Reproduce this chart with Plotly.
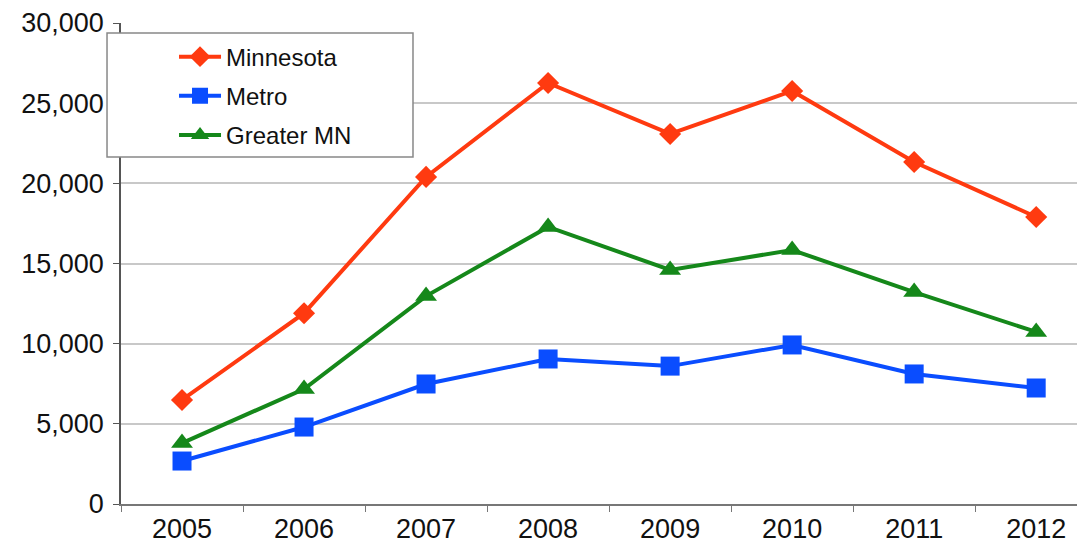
import plotly.graph_objects as go

years = ["2005", "2006", "2007", "2008", "2009", "2010", "2011", "2012"]
minnesota = [6490, 11900, 20400, 26260, 23080, 25760, 21330, 17900]
metro = [2680, 4800, 7485, 9045, 8600, 9920, 8110, 7235]
greater_mn = [3800, 7170, 12970, 17280, 14600, 15840, 13220, 10730]
y_ticks = [0, 5000, 10000, 15000, 20000, 25000, 30000]
y_labels = ["0", "5,000", "10,000", "15,000", "20,000", "25,000", "30,000"]

RED, BLUE, GREEN = "#FF3A10", "#0A4DFF", "#15881A"

fig = go.Figure()
fig.add_trace(go.Scatter(x=years, y=minnesota, name="Minnesota", mode="lines+markers",
                         legendgroup="a",
                         line=dict(color=RED, width=4),
                         marker=dict(symbol="diamond", size=17, color=RED)))
fig.add_trace(go.Scatter(x=years, y=metro, name="Metro", mode="lines+markers",
                         legendgroup="b",
                         line=dict(color=BLUE, width=4),
                         marker=dict(symbol="square", size=19, color=BLUE)))
fig.add_trace(go.Scatter(x=years, y=greater_mn, name="Greater MN", mode="lines+markers",
                         legendgroup="c",
                         line=dict(color=GREEN, width=4),
                         marker=dict(symbol="triangle-up", size=19, color=GREEN)))

# legend frame (paper coordinates)
fig.add_shape(type="rect", xref="paper", yref="paper",
              x0=-0.0145, x1=0.3029, y0=0.7214, y1=0.9792,
              line=dict(color="#888888", width=1.5), fillcolor="white", layer="above")

fig.update_layout(
    width=1077, height=545,
    margin=dict(l=113, r=0, t=15, b=49),
    paper_bgcolor="white", plot_bgcolor="white",
    font=dict(family="Liberation Sans, Arial, sans-serif", color="#111111"),
    showlegend=True,
    legend=dict(x=0.055, y=0.976, xanchor="left", yanchor="top",
                bgcolor="rgba(0,0,0,0)", borderwidth=0,
                font=dict(size=24, color="#111111"),
                itemwidth=42,
                tracegroupgap=5, traceorder="grouped"),
    xaxis=dict(type="category", range=[-0.5, 7.4], showgrid=False,
               showline=True, linecolor="#777777", linewidth=1.5,
               ticks="outside", tickson="boundaries", ticklen=6, tickcolor="#777777",
               tickfont=dict(size=27)),
    yaxis=dict(range=[0, 30000], tickvals=y_ticks, ticktext=y_labels,
               showgrid=True, gridcolor="#C8C8C8", gridwidth=1.5,
               showline=True, linecolor="#555555", linewidth=1.5,
               ticks="outside", ticklen=6, tickcolor="#555555",
               ticklabelstandoff=4,
               tickfont=dict(size=27), zeroline=False),
)

fig.write_html("out.html")
